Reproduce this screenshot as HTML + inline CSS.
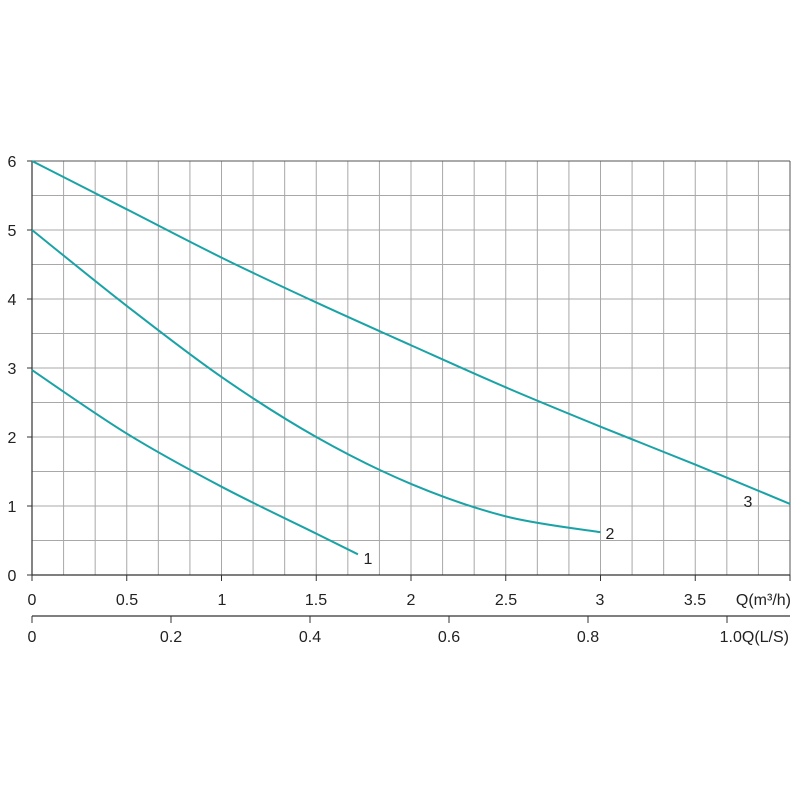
<!DOCTYPE html>
<html><head><meta charset="utf-8"><style>
html,body{margin:0;padding:0;background:#fff;}
svg{display:block;}
text{font-family:"Liberation Sans",Arial,sans-serif;font-size:16px;fill:#222;}
</style></head><body>
<svg id="s" width="800" height="800" xmlns="http://www.w3.org/2000/svg">
<g id="grid"></g>
<g id="curves" fill="none" stroke="#1aa3a6" stroke-width="2"></g>
<text x="12" y="167" text-anchor="middle">6</text>
<text x="12" y="236" text-anchor="middle">5</text>
<text x="12" y="305" text-anchor="middle">4</text>
<text x="12" y="374" text-anchor="middle">3</text>
<text x="12" y="443" text-anchor="middle">2</text>
<text x="12" y="512" text-anchor="middle">1</text>
<text x="12" y="581" text-anchor="middle">0</text>
<text x="32" y="605" text-anchor="middle">0</text>
<text x="127" y="605" text-anchor="middle">0.5</text>
<text x="222" y="605" text-anchor="middle">1</text>
<text x="316" y="605" text-anchor="middle">1.5</text>
<text x="411" y="605" text-anchor="middle">2</text>
<text x="506" y="605" text-anchor="middle">2.5</text>
<text x="600" y="605" text-anchor="middle">3</text>
<text x="695" y="605" text-anchor="middle">3.5</text>
<text x="791" y="605" text-anchor="end">Q(m³/h)</text>
<text x="32" y="642" text-anchor="middle">0</text>
<text x="171" y="642" text-anchor="middle">0.2</text>
<text x="310" y="642" text-anchor="middle">0.4</text>
<text x="449" y="642" text-anchor="middle">0.6</text>
<text x="588" y="642" text-anchor="middle">0.8</text>
<text x="789" y="642" text-anchor="end">1.0Q(L/S)</text>
<text x="368" y="564" text-anchor="middle">1</text>
<text x="610" y="539" text-anchor="middle">2</text>
<text x="748" y="507" text-anchor="middle">3</text>
</svg>
<script>
function X(q){return 32+q*189.5;}
function Y(h){return 575-h*69;}
var g=document.getElementById('grid'),s="";
for(var i=0;i<=24;i++){var x=32+i*758/24;s+='<line x1="'+x+'" y1="161" x2="'+x+'" y2="575" stroke="#a8a8a8" stroke-width="1"/>';}
for(var j=0;j<=12;j++){var y=575-j*34.5;s+='<line x1="32" y1="'+y+'" x2="790" y2="'+y+'" stroke="#a8a8a8" stroke-width="1"/>';}
s+='<line x1="32" y1="161" x2="790" y2="161" stroke="#555"/>';
s+='<line x1="790" y1="161" x2="790" y2="575" stroke="#555"/>';
s+='<line x1="32" y1="161" x2="32" y2="575" stroke="#333" stroke-width="1.2"/>';
s+='<line x1="32" y1="575" x2="790" y2="575" stroke="#333" stroke-width="1.2"/>';
for(var k=0;k<=8;k++){var x=X(k*0.5);s+='<line x1="'+x+'" y1="575" x2="'+x+'" y2="581" stroke="#333"/>';}
for(var j=0;j<=6;j++){var y=Y(j);s+='<line x1="27" y1="'+y+'" x2="32" y2="'+y+'" stroke="#333"/>';}
s+='<line x1="32" y1="616" x2="790" y2="616" stroke="#333" stroke-width="1.2"/>';
for(var k=0;k<=5;k++){var x=32+k*139;s+='<line x1="'+x+'" y1="616" x2="'+x+'" y2="623" stroke="#333"/>';}
g.innerHTML=s;
var curves=[
[[0,2.97],[0.5,2.05],[1,1.28],[1.5,0.6],[1.72,0.3]],
[[0,5],[0.5,3.9],[1,2.87],[1.5,2.0],[2,1.32],[2.5,0.85],[3,0.62]],
[[0,6],[0.5,5.3],[1,4.6],[1.5,3.95],[2,3.33],[2.5,2.72],[3,2.15],[3.5,1.6],[4,1.03]]];
var c=document.getElementById('curves'),h="";
curves.forEach(function(p){
 var pts=p.map(function(a){return [X(a[0]),Y(a[1])];});
 var d="M"+pts[0][0]+","+pts[0][1];
 for(var i=0;i<pts.length-1;i++){
  var p0=pts[Math.max(0,i-1)],p1=pts[i],p2=pts[i+1],p3=pts[Math.min(pts.length-1,i+2)];
  var c1=[p1[0]+(p2[0]-p0[0])/6,p1[1]+(p2[1]-p0[1])/6];
  var c2=[p2[0]-(p3[0]-p1[0])/6,p2[1]-(p3[1]-p1[1])/6];
  d+=" C"+c1+" "+c2+" "+p2;
 }
 h+='<path d="'+d+'"/>';
});
c.innerHTML=h;
</script>
</body></html>
